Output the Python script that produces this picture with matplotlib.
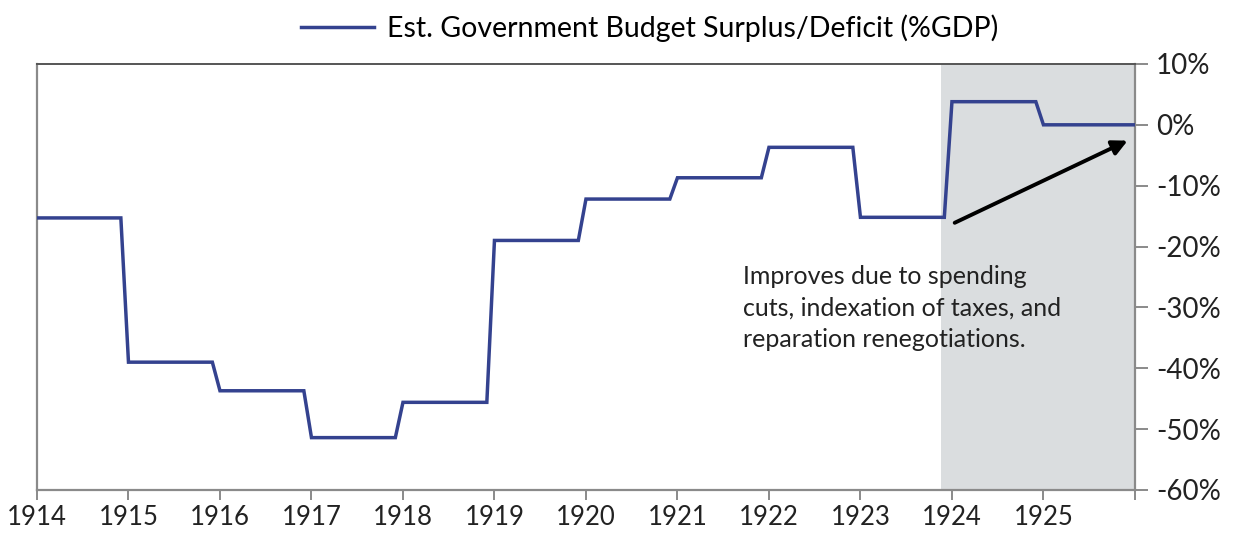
import numpy as np
import matplotlib
matplotlib.use("Agg")
import matplotlib.pyplot as plt
from matplotlib.ticker import FuncFormatter, FixedLocator

plt.rcParams['font.family'] = ['Lato', 'DejaVu Sans']

# ---- data ----
years = [1914, 1915, 1916, 1917, 1918, 1919, 1920, 1921, 1922, 1923, 1924, 1925]
budget = [-15.3, -39.0, -43.7, -51.4, -45.6, -19.0, -12.2, -8.7, -3.7, -15.2, 3.8, 0.0]
series_label = "Est. Government Budget Surplus/Deficit (%GDP)"
shade_start, shade_end = 1923.875, 1926
annotation = "Improves due to spending\ncuts, indexation of taxes, and\nreparation renegotiations."
arrow_from = (1924.03, -16.1)
arrow_to = (1925.92, -2.6)
xticks = list(range(1914, 1927))
yticks = [10, 0, -10, -20, -30, -40, -50, -60]

# monthly step series (each annual value held through the year)
xs, ys = [], []
for yr, v in zip(years, budget):
    for m in range(12):
        xs.append(yr + m / 12)
        ys.append(v)
xs.append(years[-1] + 1)
ys.append(budget[-1])

fig = plt.figure(figsize=(12.45, 5.42), dpi=100)
ax = fig.add_axes([0.0297, 0.096, 0.9116 - 0.0297, 0.882 - 0.096])

ax.axvspan(shade_start, shade_end, color='#dadddf', zorder=0, lw=0)
line, = ax.plot(xs, ys, color='#34428f', lw=2.5, solid_joinstyle='miter', zorder=3,
                label=series_label)

ax.set_xlim(1914, 1926)
ax.set_ylim(-60, 10)

ax.xaxis.set_major_locator(FixedLocator(xticks))
ax.set_xticklabels([str(t) if t < 1926 else '' for t in xticks])
ax.yaxis.tick_right()
ax.yaxis.set_major_locator(FixedLocator(yticks))
ax.yaxis.set_major_formatter(FuncFormatter(lambda v, p: f"{int(v)}%"))

for s in ['left', 'right', 'bottom']:
    ax.spines[s].set_color('#8a8a8a')
    ax.spines[s].set_linewidth(1.6)
ax.spines['top'].set_color('#555555')
ax.spines['top'].set_linewidth(1.4)

ax.tick_params(axis='x', direction='out', length=7, width=1.4, color='#8a8a8a',
               labelsize=18.5, pad=4, labelcolor='#222222')
ax.tick_params(axis='y', direction='out', length=9, width=1.4, color='#8a8a8a',
               labelsize=20, pad=6, labelcolor='#222222')

ax.annotate('', xy=arrow_to, xytext=arrow_from,
            arrowprops=dict(arrowstyle='-|>,head_length=0.9,head_width=0.45',
                            color='black', lw=2.8, shrinkA=0, shrinkB=0), zorder=4)
ax.text(1921.72, -23.0, annotation, fontsize=18, color='#222222', va='top', ha='left',
        linespacing=1.45, zorder=5)

fig.legend(handles=[line], loc='center', bbox_to_anchor=(0.522, 0.948), frameon=False,
           fontsize=20.5, handlelength=2.56, handletextpad=0.45)

fig.savefig('out.png', dpi=100, facecolor='white')
